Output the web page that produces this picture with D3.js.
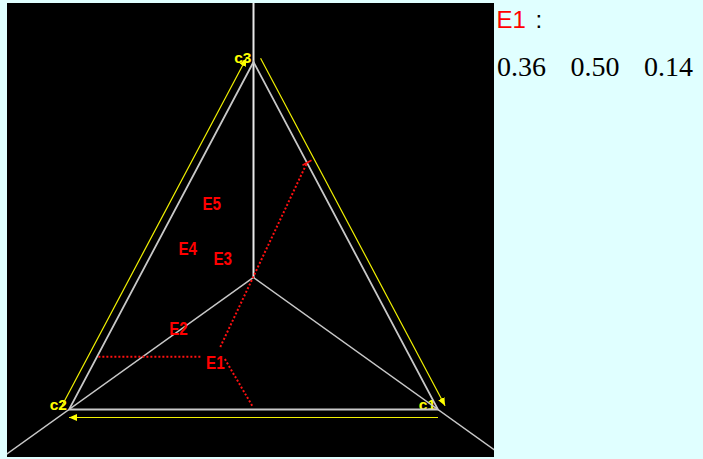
<!DOCTYPE html>
<html>
<head>
<meta charset="utf-8">
<script src="https://cdn.jsdelivr.net/npm/d3@7"></script>
<style>
  html, body { margin: 0; padding: 0; background: #e0ffff; overflow: hidden; }
  svg { display: block; }
</style>
</head>
<body>
<svg id="chart" width="703" height="459"></svg>
<script>
// Ternary composition diagram: three components c1, c2, c3
const vertexNames = ["c1", "c2", "c3"];
const vertexComps = [[1, 0, 0], [0, 1, 0], [0, 0, 1]];
// interior hub where the three axis lines meet
const hubComp = [0.31, 0.31, 0.38];

// samples (fractions of c1, c2, c3)
const sampleNames = ["E1", "E2", "E3", "E4", "E5"];
const sampleC1 = [0.36, 0.21, 0.23, 0.12, 0.12];
const sampleC2 = [0.50, 0.55, 0.33, 0.41, 0.28];
const sampleC3 = [0.14, 0.24, 0.44, 0.47, 0.60];

// reading lines for the selected sample (start / end compositions)
const readFrom = [[0.28, 0.568, 0.152], [0.32, 0.50, 0.18], [0.35, 0.505, 0.145]];
const readTo   = [[0.00, 0.848, 0.152], [0.29, 0.00, 0.71], [0.495, 0.498, 0.007]];
const selected = 0;

// edge arrows: c2 -> c3, c3 -> c1, c1 -> c2
const edgeArrows = [[1, 2], [2, 0], [0, 1]];

const svg = d3.select("#chart");
const panel = { x: 7, y: 3, w: 487, h: 454 };

// base runs along x in [0,1], height along y in [0,1]
const x = d3.scaleLinear().domain([0, 1]).range([69, 438]);
const y = d3.scaleLinear().domain([0, 1]).range([409.5, 62]);

function project(c) {
  const s = c[0] + c[1] + c[2];
  const a = c[0] / s, h = c[2] / s;
  return [x(a + 0.5 * h), y(h)];
}

const verts = vertexComps.map(project);
const hub = project(hubComp);

// dark plotting panel
svg.append("rect")
  .attr("x", panel.x).attr("y", panel.y)
  .attr("width", panel.w).attr("height", panel.h)
  .attr("fill", "#000");

const defs = svg.append("defs");
defs.append("clipPath").attr("id", "panelClip")
  .append("rect")
  .attr("x", panel.x).attr("y", panel.y)
  .attr("width", panel.w).attr("height", panel.h);

defs.append("marker")
  .attr("id", "yhead")
  .attr("markerUnits", "userSpaceOnUse")
  .attr("viewBox", "0 -4 8 8")
  .attr("refX", 8).attr("refY", 0)
  .attr("markerWidth", 8).attr("markerHeight", 8)
  .attr("orient", "auto")
  .append("path")
  .attr("d", "M0,-3.5L8,0L0,3.5Z")
  .attr("fill", "#ffff00");

const g = svg.append("g").attr("clip-path", "url(#panelClip)");

// vertex labels
g.selectAll("text.vlabel")
  .data(vertexNames)
  .join("text")
  .attr("class", "vlabel")
  .attr("x", (d, i) => verts[i][0] - 2)
  .attr("y", (d, i) => verts[i][1] + 0.5)
  .attr("text-anchor", "end")
  .attr("font-family", "Liberation Sans, Arial, sans-serif")
  .attr("font-weight", "bold")
  .attr("font-size", 15.5)
  .attr("fill", "#ffff00")
  .text(d => d);

// axis lines from the hub through each vertex, running to the panel border
g.selectAll("line.axis")
  .data(verts)
  .join("line")
  .attr("class", "axis")
  .attr("x1", hub[0]).attr("y1", hub[1])
  .attr("x2", d => hub[0] + (d[0] - hub[0]) * 4)
  .attr("y2", d => hub[1] + (d[1] - hub[1]) * 4)
  .attr("stroke", (d, i) => i === 2 ? "#e8e8e8" : "#c8c8c8")
  .attr("stroke-width", (d, i) => i === 2 ? 2 : 1.5);

// triangle outline
g.append("path")
  .attr("d", d3.line()(verts) + "Z")
  .attr("fill", "none")
  .attr("stroke", "#c8c8c8")
  .attr("stroke-width", 1.8)
  .attr("stroke-linejoin", "miter");

// yellow direction arrows, offset outward from each edge
const cx = d3.mean(verts, d => d[0]), cy = d3.mean(verts, d => d[1]);
const offset = 8;
g.selectAll("line.edgeArrow")
  .data(edgeArrows)
  .join("line")
  .attr("class", "edgeArrow")
  .each(function ([a, b]) {
    const A = verts[a], B = verts[b];
    const dx = B[0] - A[0], dy = B[1] - A[1];
    const len = Math.hypot(dx, dy);
    let nx = -dy / len, ny = dx / len;
    const mx = (A[0] + B[0]) / 2, my = (A[1] + B[1]) / 2;
    if ((mx - cx) * nx + (my - cy) * ny < 0) { nx = -nx; ny = -ny; }
    d3.select(this)
      .attr("x1", A[0] + nx * offset).attr("y1", A[1] + ny * offset)
      .attr("x2", B[0] + nx * offset).attr("y2", B[1] + ny * offset);
  })
  .attr("stroke", "#f2f200")
  .attr("stroke-width", 1.2)
  .attr("marker-end", "url(#yhead)");

// reading lines of the selected sample
g.selectAll("line.read")
  .data(readFrom)
  .join("line")
  .attr("class", "read")
  .attr("x1", d => project(d)[0]).attr("y1", d => project(d)[1])
  .attr("x2", (d, i) => project(readTo[i])[0])
  .attr("y2", (d, i) => project(readTo[i])[1])
  .attr("stroke", "#ff1010")
  .attr("stroke-width", 2)
  .attr("stroke-dasharray", "2,2");

// small tick where the c1 reading meets the edge
const tickAt = project(readTo[1]);
g.append("line")
  .attr("x1", tickAt[0] - 4.5).attr("y1", tickAt[1] + 2.5)
  .attr("x2", tickAt[0] + 4.5).attr("y2", tickAt[1] - 2.5)
  .attr("stroke", "#ff1010")
  .attr("stroke-width", 1.5);

// sample labels
const samples = sampleNames.map((n, i) => ({
  name: n, comp: [sampleC1[i], sampleC2[i], sampleC3[i]]
}));
g.selectAll("text.sample")
  .data(samples)
  .join("text")
  .attr("class", "sample")
  .attr("transform", d => {
    const p = project(d.comp);
    return `translate(${p[0] - 3},${p[1] + 8.6}) scale(0.8,1)`;
  })
  .attr("text-anchor", "end")
  .attr("font-family", "Liberation Sans, Arial, sans-serif")
  .attr("font-weight", "bold")
  .attr("font-size", 19)
  .attr("fill", "#ff0000")
  .text(d => d.name);

// side readout for the selected sample
const sel = samples[selected];
const info = svg.append("g");
info.append("text")
  .attr("x", 496.5).attr("y", 27.5)
  .attr("font-family", "Liberation Sans, Arial, sans-serif")
  .attr("font-size", 24)
  .attr("fill", "#ff0000")
  .text(sel.name);
info.append("text")
  .attr("x", 535.5).attr("y", 27.5)
  .attr("font-family", "Liberation Sans, Arial, sans-serif")
  .attr("font-size", 24)
  .attr("fill", "#000")
  .text(":");
const fmt = d3.format(".2f");
info.selectAll("text.val")
  .data(sel.comp)
  .join("text")
  .attr("class", "val")
  .attr("x", (d, i) => 497 + i * 73.5)
  .attr("y", 76)
  .attr("font-family", "Liberation Serif, Times New Roman, serif")
  .attr("font-size", 28)
  .attr("fill", "#000")
  .text(d => fmt(d));
</script>
</body>
</html>
